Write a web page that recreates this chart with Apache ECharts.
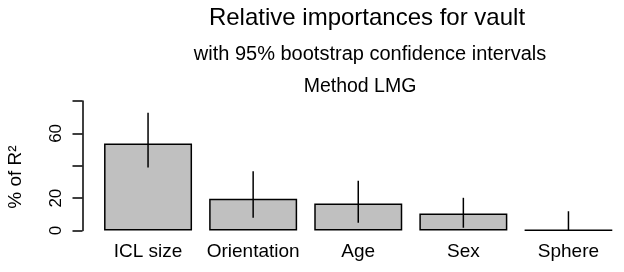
<!DOCTYPE html>
<html>
<head>
<meta charset="utf-8">
<script src="https://cdn.jsdelivr.net/npm/echarts@6/dist/echarts.min.js"></script>
<style>html,body{margin:0;padding:0;background:#fff;}#c{width:624px;height:272px;}</style>
</head>
<body>
<div id="c"></div>
<script>
var categories = ["ICL size", "Orientation", "Age", "Sex", "Sphere"];
var importance = [53.7, 19.6, 16.7, 10.5, 0.2];
var ciLower = [38.9, 7.8, 4.8, 1.7, 0];
var ciUpper = [72.8, 36.6, 30.7, 20.2, 11.9];
var yTickValues = [0, 20, 40, 60, 80];
var yTickLabels = ["0", "20", "", "60", ""];
var titleMain = "Relative importances for vault";
var titleSub1 = "with 95% bootstrap confidence intervals";
var titleSub2 = "Method LMG";
var yName = "% of R\u00B2";

var FONT = "Liberation Sans, Arial, sans-serif";
var chart = echarts.init(document.getElementById('c'), null, {renderer: 'canvas'});

var ciData = categories.map(function (c, i) { return [i, ciLower[i], ciUpper[i]]; });

chart.setOption({
  animation: false,
  backgroundColor: '#ffffff',
  title: [
    {text: titleMain, left: 362, top: 1, textAlign: 'center',
     textStyle: {fontFamily: FONT, fontSize: 24, fontWeight: 'normal', color: '#000'}},
    {text: titleSub1, left: 365, top: 39, textAlign: 'center',
     textStyle: {fontFamily: FONT, fontSize: 20, fontWeight: 'normal', color: '#000'}},
    {text: titleSub2, left: 355, top: 72, textAlign: 'center',
     textStyle: {fontFamily: FONT, fontSize: 19.5, fontWeight: 'normal', color: '#000'}}
  ],
  grid: {left: 95.5, right: 3, top: 101, bottom: 41.5, containLabel: false},
  xAxis: {
    type: 'category', data: categories,
    axisLine: {show: false}, axisTick: {show: false},
    axisLabel: {fontFamily: FONT, fontSize: 19, color: '#000', margin: 12, interval: 0}
  },
  yAxis: {
    type: 'value', min: 0, max: 80, interval: 20, offset: 13,
    splitLine: {show: false},
    axisLine: {show: true, lineStyle: {color: '#000', width: 1.5}},
    axisTick: {show: true, length: 10, lineStyle: {color: '#000', width: 1.5}},
    axisLabel: {
      rotate: 90, margin: 18, fontFamily: FONT, fontSize: 17, color: '#000',
      formatter: function (v) { var k = yTickValues.indexOf(v); return k >= 0 ? yTickLabels[k] : ''; }
    }
  },
  graphic: [{
    type: 'text', x: 16, y: 177, rotation: Math.PI / 2,
    style: {text: yName, font: '19px ' + FONT, fill: '#000', align: 'center', verticalAlign: 'middle'}
  }],
  series: [
    {
      type: 'bar', data: importance, barWidth: 88,
      itemStyle: {color: '#c0c0c0', borderColor: '#000', borderWidth: 1.5}
    },
    {
      type: 'custom', data: ciData, z: 10,
      renderItem: function (params, api) {
        var lo = api.coord([api.value(0), api.value(1)]);
        var hi = api.coord([api.value(0), api.value(2)]);
        return {type: 'line', shape: {x1: lo[0], y1: lo[1], x2: hi[0], y2: hi[1]},
                style: {stroke: '#000', lineWidth: 1.5}};
      }
    }
  ]
});
</script>
</body>
</html>
